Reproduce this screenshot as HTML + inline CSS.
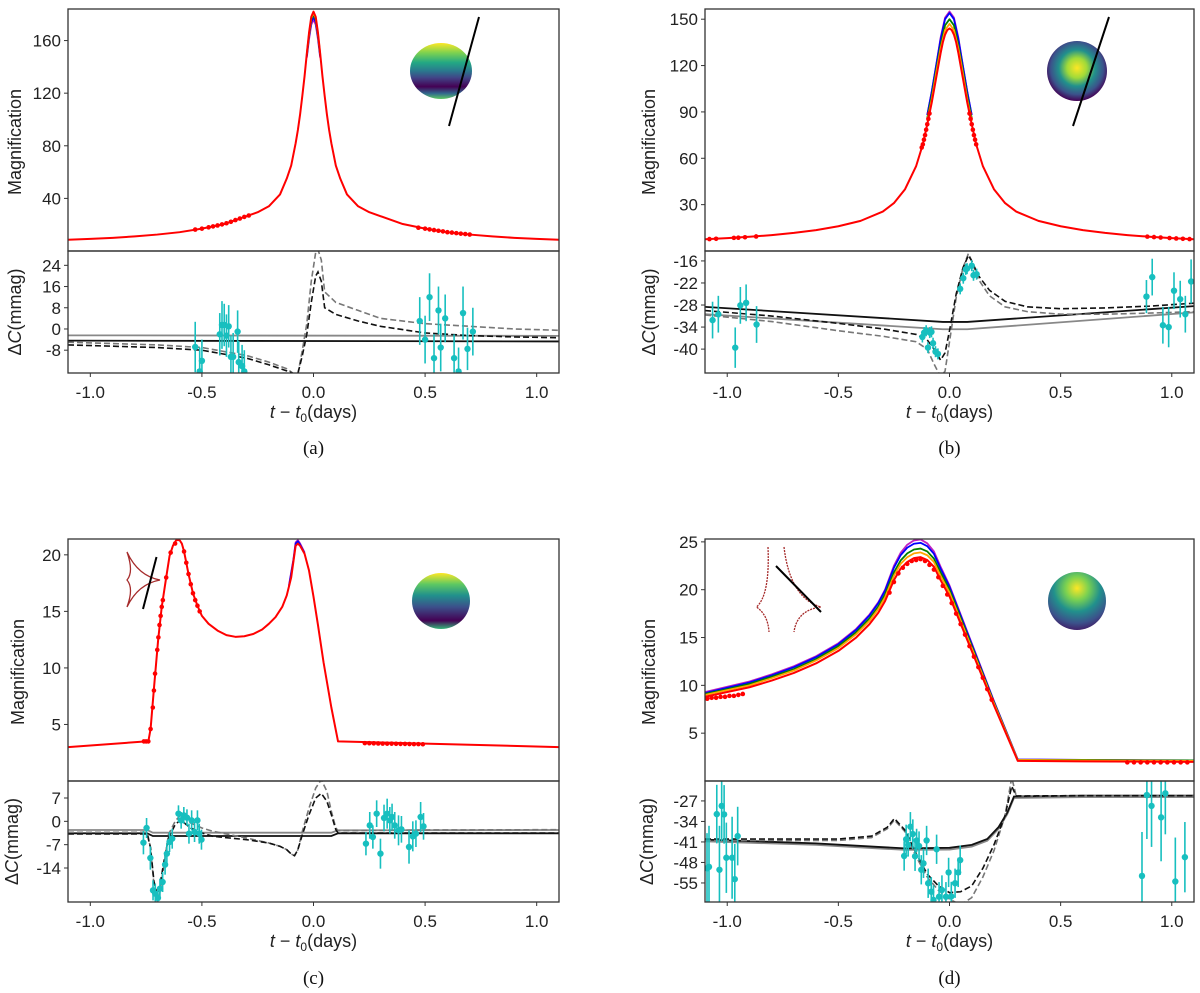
<!DOCTYPE html>
<html><head><meta charset="utf-8">
<style>
html,body{margin:0;padding:0;background:#fff;}
svg{display:block;font-family:"Liberation Sans","DejaVu Sans",sans-serif;}
.tk{font-size:17px;fill:#222;}
.yl{font-size:18px;fill:#222;}
.cap{font-family:"Liberation Serif",serif;font-size:19px;fill:#111;}
</style></head>
<body>
<svg id="fig" width="1200" height="993" viewBox="0 0 1200 993" xmlns="http://www.w3.org/2000/svg">
<defs>
<linearGradient id="gA" x1="0" y1="0" x2="0" y2="1">
<stop offset="0" stop-color="#fde725"/><stop offset="0.18" stop-color="#7ad151"/><stop offset="0.35" stop-color="#22a884"/><stop offset="0.5" stop-color="#2a788e"/><stop offset="0.62" stop-color="#414487"/><stop offset="0.78" stop-color="#440154"/><stop offset="0.9" stop-color="#31688e"/><stop offset="1" stop-color="#5ec962"/></linearGradient>
<radialGradient id="gB" cx="0.5" cy="0.45" r="0.55">
<stop offset="0" stop-color="#fde725"/><stop offset="0.3" stop-color="#a0da39"/><stop offset="0.55" stop-color="#21918c"/><stop offset="0.8" stop-color="#3b528b"/><stop offset="1" stop-color="#440154"/></radialGradient>
<linearGradient id="gC" x1="0" y1="0" x2="0" y2="1">
<stop offset="0" stop-color="#fde725"/><stop offset="0.2" stop-color="#5ec962"/><stop offset="0.4" stop-color="#21918c"/><stop offset="0.6" stop-color="#3b528b"/><stop offset="0.85" stop-color="#440154"/><stop offset="1" stop-color="#35b779"/></linearGradient>
<radialGradient id="gD" cx="0.5" cy="0.28" r="0.8">
<stop offset="0" stop-color="#fde725"/><stop offset="0.25" stop-color="#7ad151"/><stop offset="0.5" stop-color="#21918c"/><stop offset="0.75" stop-color="#3b528b"/><stop offset="1" stop-color="#440154"/></radialGradient>
</defs>
</svg>
<script>
// ---------- Panel (a) data ----------
const tA=[-1.1,-1.0,-0.9,-0.8,-0.7,-0.6,-0.5,-0.4,-0.3,-0.25,-0.2,-0.15,-0.12,-0.1,-0.08,-0.07,-0.06,-0.05,-0.04,-0.03,-0.02,-0.01,0,0.01,0.02,0.03,0.04,0.05,0.06,0.07,0.08,0.1,0.12,0.15,0.2,0.25,0.3,0.4,0.5,0.6,0.7,0.8,0.9,1.0,1.1];
const redA=[8.6,9.2,10,11.1,12.5,14.3,17,20.5,26.5,29.5,34,43,55,65,82,92,104,118,133,150,166,178,182,178,166,150,133,118,104,92,82,65,55,43,34,29.5,26.5,20.5,17,14.3,12.5,11.1,10,9.2,8.6];
const tAp=[-0.03,-0.02,-0.01,0,0.01,0.02,0.03];
const purpleA=[147,161,172,176,172,161,147];
const blueA=[148,163,174,178,174,163,148];
const greenA=[149,164,176,180,176,164,149];
const orangeA=[150,165,177,181,177,165,150];
const tDataA=[-0.53,-0.5,-0.47,-0.45,-0.43,-0.41,-0.39,-0.37,-0.35,-0.33,-0.31,-0.29,0.47,0.5,0.52,0.54,0.56,0.58,0.6,0.62,0.64,0.66,0.68,0.7];
const vDataA=[16.3,17,18,18.7,19.4,20.2,21.1,22.2,23.5,24.7,25.9,27,17.7,17,16.4,15.9,15.4,14.9,14.3,14,13.6,13.2,12.9,12.5];
const tResA=[-1.1,-0.7,-0.5,-0.3,-0.2,-0.12,-0.09,-0.07,-0.05,-0.03,-0.01,0.01,0.02,0.035,0.05,0.1,0.2,0.3,0.5,0.7,0.9,1.1];
const blackDashA=[-6,-7,-8,-11,-13.5,-15.8,-16.8,-16.8,-10,-2,10,20,21.5,18,8,5.5,3,1,-1.5,-2.5,-3,-3.3];
const greyDashA=[-5,-6,-7,-10,-12.5,-15,-16.8,-17,-8,2,18,29,30,26,14,10,7,4,2,1,0,-0.5];
const tSolidA=[-1.1,1.1];
const blackSolidA=[-4.4,-4.7];
const greySolidA=[-2.4,-2.6];
const tCyanA=[-0.53,-0.51,-0.5,-0.42,-0.41,-0.4,-0.39,-0.38,-0.37,-0.36,-0.34,-0.335,-0.32,-0.31,0.476,0.5,0.52,0.54,0.56,0.57,0.59,0.63,0.65,0.67,0.69,0.714];
const vCyanA=[-6.8,-16,-12,-2,1.5,1.5,-2.5,1,-10.5,-10.5,-1,-12.5,-14,-16,3,-4,12,-11,7,-7,4,-11,-16,6,-7.5,-1];
const eCyanA=[9.5,9,8,8,9,8,8,8,8,9,8,8,8,8,9,9,9,9,9,9,9,9,9,10,8,9];

// ---------- Panel (b) data ----------
const tB=[-1.1,-1.0,-0.9,-0.8,-0.7,-0.6,-0.5,-0.4,-0.3,-0.25,-0.2,-0.15,-0.12,-0.1,-0.09,-0.08,-0.07,-0.06,-0.05,-0.04,-0.03,-0.02,-0.01,0,0.01,0.02,0.03,0.04,0.05,0.06,0.07,0.08,0.09,0.1,0.12,0.15,0.2,0.25,0.3,0.4,0.5,0.6,0.7,0.8,0.9,1.0,1.1];
const redB=[7.6,8.3,9.2,10.3,11.7,13.5,16,19.5,25.5,31,40,55,69,82,89,96,104,112,120,128,135,140,143,144,143,140,135,128,120,112,104,96,89,82,69,55,40,31,25.5,19.5,16,13.5,11.7,10.3,9.2,8.3,7.6];
const tBp=[-0.1,-0.08,-0.06,-0.04,-0.02,0,0.02,0.04,0.06,0.08,0.1];
const orangeB=[84,98,115,131,143,147,143,131,115,98,84];
const greenB=[86,100,117,133,146,150,146,133,117,100,86];
const blueB=[88,103,120,137,150,154,150,137,120,103,88];
const purpleB=[88,103,120,138,151,155,151,138,120,103,88];
const tDataB=[-1.08,-1.05,-0.97,-0.95,-0.92,-0.87,-0.125,-0.12,-0.115,-0.11,-0.105,-0.1,-0.095,-0.09,0.09,0.095,0.1,0.105,0.11,0.115,0.12,0.89,0.92,0.95,0.99,1.02,1.05,1.08];
const vDataB=[7.7,7.9,8.5,8.6,8.9,9.4,67,69,72,75,78.5,82,85.5,89,89,85.5,82,78.5,75,72,69,9.3,9,8.7,8.4,8.1,7.9,7.7];
const tResB=[-1.1,-0.8,-0.5,-0.3,-0.15,-0.1,-0.07,-0.04,-0.02,0,0.03,0.06,0.085,0.1,0.13,0.18,0.25,0.35,0.5,0.7,0.9,1.1];
const blackDashB=[-29.5,-31,-33,-34.5,-36,-37.5,-40,-43,-41,-35,-25,-18,-14.5,-16,-20,-24,-27,-28.5,-29,-28.8,-28.3,-27.5];
const greyDashB=[-30.7,-32.5,-35,-36.5,-38,-40,-44,-47.5,-46,-38,-26,-18,-14,-16,-21,-25.5,-28.5,-29.8,-30.5,-30.5,-30.2,-29.8];
const tSolidB=[-1.1,-0.03,0.08,1.1];
const blackSolidB=[-28.5,-32.6,-32.6,-28.3];
const greySolidB=[-30.5,-34.6,-34.6,-30];
const tCyanB=[-1.066,-1.04,-0.964,-0.941,-0.915,-0.868,-0.122,-0.114,-0.105,-0.097,-0.089,-0.081,-0.074,-0.063,-0.052,0.048,0.062,0.073,0.079,0.1,0.108,0.122,0.886,0.912,0.96,0.986,1.01,1.038,1.061,1.087];
const vCyanB=[-32.1,-30.5,-39.6,-28.1,-27.4,-33.3,-36.7,-35.5,-35,-39.6,-35.5,-35.3,-38.4,-40.7,-41.3,-23.6,-20.7,-18.3,-18.1,-17.3,-19.9,-19.6,-25.7,-20.4,-33.5,-34,-24.1,-26.4,-30.5,-21.6];
const eCyanB=[5,5,5.5,5,5,5,1.5,1.5,1.5,1.5,1.5,1.5,1.5,1.5,1.5,1.5,1.5,1.5,1.5,1.5,1.5,1.5,4.5,5,5,5.5,5,5,5,6];

// ---------- Panel (c) data ----------
const tC=[-1.1,-0.75,-0.74,-0.73,-0.714,-0.696,-0.68,-0.66,-0.645,-0.63,-0.615,-0.6,-0.59,-0.58,-0.57,-0.56,-0.54,-0.52,-0.5,-0.47,-0.43,-0.39,-0.35,-0.31,-0.27,-0.23,-0.2,-0.17,-0.14,-0.12,-0.1,-0.09,-0.08,-0.07,-0.06,-0.04,-0.02,0,0.02,0.045,0.08,0.11,0.5,1.1];
const redC=[3.0,3.5,3.5,4.6,8.4,12.5,15.4,18,19.9,20.8,21.3,21.3,21.0,20.3,19.3,18.3,16.6,15.5,14.6,13.9,13.3,12.9,12.75,12.8,13.0,13.4,13.9,14.5,15.4,16.4,18,19.4,20.8,21.0,20.8,20.1,18.6,16.3,13.8,10.5,6.5,3.5,3.3,3.0];
const tCp=[-0.11,-0.09,-0.08,-0.07,-0.06,-0.04];
const purpleC=[17.3,19.6,21.1,21.3,21.0,20.2];
const blueC=[17.2,19.5,21.0,21.2,20.9,20.15];
const tDataC=[-0.76,-0.75,-0.74,-0.73,-0.72,-0.715,-0.71,-0.7,-0.695,-0.69,-0.685,-0.68,-0.675,-0.66,-0.64,-0.62,-0.58,-0.57,-0.56,-0.55,-0.54,-0.53,-0.52,-0.51,0.23,0.25,0.27,0.29,0.31,0.33,0.35,0.37,0.39,0.41,0.43,0.45,0.47,0.49];
const vDataC=[3.5,3.5,3.5,4.6,6.5,8,9.5,11.6,12.7,13.8,14.6,15.4,16,18,20.2,21.0,20.3,19.3,18.3,17.4,16.6,16,15.5,15.0,3.35,3.34,3.33,3.32,3.31,3.3,3.3,3.29,3.28,3.28,3.27,3.26,3.26,3.25];
const tResC=[-1.1,-0.745,-0.73,-0.715,-0.7,-0.69,-0.67,-0.65,-0.62,-0.595,-0.57,-0.55,-0.5,-0.45,-0.3,-0.2,-0.15,-0.12,-0.1,-0.085,-0.07,-0.05,-0.02,0.01,0.035,0.06,0.08,0.1,0.11,0.5,1.1];
const blackDashC=[-3.8,-3.8,-8,-18,-22,-20,-12,-5,-1,0.5,-1,-2,-3.5,-4.5,-5.5,-6.5,-7.5,-8.5,-9.8,-10.3,-8.5,-4,2,7,8.4,6,2,-2.5,-3.5,-3.5,-3.5];
const greyDashC=[-3.3,-3.3,-8,-19,-24,-22,-13,-4,0,2,0.5,-0.5,-2,-3,-5,-6.5,-7.5,-8.5,-9.8,-10.3,-8.5,-3,4,10,12.5,9,3,-2,-2.8,-2.6,-2.5];
const tSolidC=[-1.1,-0.745,-0.72,0.08,0.11,1.1];
const blackSolidC=[-3.6,-3.6,-4.4,-4.4,-3.6,-3.6];
const greySolidC=[-2.6,-2.6,-3.4,-3.4,-2.7,-2.6];
const tCyanC=[-0.762,-0.748,-0.731,-0.719,-0.709,-0.697,-0.688,-0.676,-0.665,-0.657,-0.645,-0.633,-0.605,-0.593,-0.581,-0.567,-0.558,-0.546,-0.533,-0.52,-0.512,-0.502,0.235,0.252,0.266,0.283,0.3,0.316,0.33,0.342,0.352,0.364,0.381,0.394,0.428,0.445,0.459,0.48,0.493];
const vCyanC=[-6.4,-2,-11,-20.7,-21.7,-23,-20.2,-18.2,-13,-9.7,-6.2,-5.2,2.3,0.3,1.8,1.1,-3.7,0.3,-3.2,0.3,-3.7,-5.5,-6.7,-1.2,-4.7,2.3,-9.7,1,2.3,0.3,1.3,-1.2,-2.7,-2.4,-7.7,-4.5,-3.7,1.3,-1.5];
const eCyanC=[3.5,3,3.5,3,3,3,3,3,3,3,3,3,2.5,2.5,2.5,2.5,3,3,3,3,3,3,3.5,4,3.5,4,4.5,4,4.5,4,4,4,4.5,4,5,4.5,4,4.5,4];

// ---------- Panel (d) data ----------
const tD=[-1.1,-1.0,-0.9,-0.8,-0.7,-0.6,-0.5,-0.42,-0.36,-0.32,-0.29,-0.27,-0.25,-0.22,-0.19,-0.16,-0.13,-0.1,-0.07,-0.04,0,0.1,0.2,0.307,0.6,1.1];
const redD=[8.8,9.3,9.8,10.5,11.3,12.3,13.6,15.0,16.4,17.6,18.8,19.9,21.0,22.2,22.9,23.3,23.4,23.1,22.4,21.0,19.3,13.6,7.9,2.1,2.05,2.0];
const orangeD=[9.0,9.5,10.0,10.75,11.55,12.6,13.9,15.35,16.75,18.0,19.2,20.35,21.45,22.7,23.4,23.8,23.9,23.6,22.9,21.45,19.7,13.9,8.1,2.2,2.15,2.1];
const greenD=[9.1,9.6,10.15,10.9,11.7,12.75,14.1,15.55,17.0,18.25,19.5,20.65,21.8,23.05,23.8,24.2,24.3,24.0,23.25,21.8,20.0,14.1,8.2,2.2,2.2,2.15];
const blueD=[9.2,9.75,10.3,11.05,11.9,12.95,14.3,15.8,17.3,18.6,19.9,21.1,22.3,23.6,24.4,24.8,24.9,24.55,23.75,22.2,20.3,14.3,8.3,2.25,2.2,2.15];
const purpleD=[9.3,9.85,10.4,11.15,12.0,13.05,14.4,15.9,17.4,18.7,20.0,21.25,22.5,23.85,24.7,25.15,25.25,24.85,24.0,22.4,20.45,14.4,8.35,2.25,2.2,2.15];
const tDataD=[-1.09,-1.07,-1.05,-1.03,-1.01,-0.99,-0.97,-0.95,-0.93,-0.27,-0.25,-0.23,-0.21,-0.19,-0.17,-0.15,-0.13,-0.11,-0.09,-0.07,-0.05,-0.03,-0.01,0.01,0.03,0.05,0.07,0.09,0.11,0.13,0.15,0.17,0.19,0.8,0.83,0.86,0.89,0.92,0.95,0.98,1.01,1.04,1.07];
const vDataD=[8.6,8.7,8.7,8.8,8.8,8.9,8.9,9.0,9.1,19.7,20.8,21.7,22.3,22.7,23.0,23.1,23.2,23.0,22.6,22.1,21.3,20.4,19.5,18.6,17.5,16.4,15.3,14.1,13.0,11.9,10.8,9.6,8.5,1.95,1.95,1.95,1.95,1.95,1.95,1.95,1.95,1.95,1.95];
const tResD=[-1.1,-0.5,-0.35,-0.28,-0.248,-0.2,-0.15,-0.1,-0.05,0,0.05,0.1,0.15,0.2,0.25,0.28,0.3,0.6,1.1];
const blackDashD=[-40,-40,-39,-36,-33,-37,-45,-52,-56,-58.3,-58,-56,-50,-42,-32,-22,-25.3,-25.2,-25.2];
const greyDashD=[-40.5,-40.5,-39.5,-36.5,-33.5,-37.5,-46,-53,-57.5,-60.5,-62.5,-60,-53,-44,-32,-19,-25.3,-25.3,-25.3];
const tSolidD=[-1.1,-0.6,-0.3,-0.2,0,0.1,0.17,0.22,0.26,0.29,0.6,1.1];
const blackSolidD=[-40.2,-41.5,-42.8,-43.2,-43,-42,-40,-36,-31,-25.5,-25.2,-25.2];
const greySolidD=[-40.8,-42,-43.3,-43.7,-43.6,-42.6,-40.6,-36.6,-31.5,-26,-25.7,-25.7];
const tCyanD=[-1.091,-1.082,-1.047,-1.035,-1.025,-1.014,-1.004,-0.978,-0.966,-0.953,-0.204,-0.195,-0.186,-0.176,-0.165,-0.155,-0.148,-0.137,-0.127,-0.117,-0.103,-0.096,-0.082,-0.072,-0.058,-0.047,-0.034,-0.016,-0.004,0.008,0.025,0.039,0.048,0.866,0.888,0.909,0.952,0.971,1.016,1.059];
const vCyanD=[-50,-49.5,-31.5,-50.5,-28.7,-31.6,-46.4,-46.4,-53.7,-39,-45.8,-40.1,-42,-35.8,-38.3,-45.9,-40.5,-42.4,-50.5,-48.3,-40.5,-55.1,-58,-60.8,-43.5,-59.7,-57.4,-59.7,-51.4,-59.6,-55.1,-51.4,-47.2,-52.6,-25,-28.7,-32.6,-24.4,-54.5,-46.2];
const eCyanD=[12,14,10,15,12,10,12,14,12,10,5,5,4,5,5,5,4,5,5,5,5,5,5,5,5,5,5,5,5,5,5,5,5,15,15,14,15,14,15,12];

// ---------- tick labels ----------
const xTicks=[-1.0,-0.5,0.0,0.5,1.0];
const xTickLabels=["-1.0","-0.5","0.0","0.5","1.0"];
const yTicksTopA=[40,80,120,160], yTicksBotA=[-8,0,8,16,24];
const yTicksTopB=[30,60,90,120,150], yTicksBotB=[-40,-34,-28,-22,-16];
const yTicksTopC=[5,10,15,20], yTicksBotC=[-14,-7,0,7];
const yTicksTopD=[5,10,15,20,25], yTicksBotD=[-55,-48,-41,-34,-27];

const NS="http://www.w3.org/2000/svg";
const svg=document.getElementById('fig');
function mk(tag,attrs,parent){const e=document.createElementNS(NS,tag);for(const k in attrs)e.setAttribute(k,attrs[k]);(parent||svg).appendChild(e);return e;}
function pathD(xs,ys,sx,sy){let d="";for(let i=0;i<xs.length;i++)d+=(i?"L":"M")+sx(xs[i]).toFixed(2)+","+sy(ys[i]).toFixed(2);return d;}

function panel(p){
  const g=mk('g',{});
  
  
  const sx=t=>p.x0+(t+1.1)/2.2*(p.x1-p.x0);
  const syT=v=>p.yMid-(v-p.topMin)/(p.topMax-p.topMin)*(p.yMid-p.yTop);
  const syB=v=>p.yBot-(v-p.botMin)/(p.botMax-p.botMin)*(p.yBot-p.yMid);
  const cpT=mk('clipPath',{id:'cpT'+p.id},g);mk('rect',{x:p.x0,y:p.yTop,width:p.x1-p.x0,height:p.yMid-p.yTop},cpT);
  const cpB=mk('clipPath',{id:'cpB'+p.id},g);mk('rect',{x:p.x0,y:p.yMid,width:p.x1-p.x0,height:p.yBot-p.yMid},cpB);
  const gt=mk('g',{'clip-path':'url(#cpT'+p.id+')'},g);
  
  
  p.colored.forEach(c=>{
    const e=mk('path',{d:pathD(c.t,c.v,sx,syT),fill:'none',stroke:c.col,'stroke-width':1.8,'stroke-linejoin':'round'},gt);
    
    
  });
  const rl=mk('path',{d:pathD(p.tModel,p.red,sx,syT),fill:'none',stroke:'#ff0000','stroke-width':2,'stroke-linejoin':'round'},gt);
  
  
  p.tData.forEach((t,i)=>{
    const c=mk('circle',{cx:sx(t),cy:syT(p.vData[i]),r:2.3,fill:'#ff0000'},gt);
    
    
  });
  const gb=mk('g',{'clip-path':'url(#cpB'+p.id+')'},g);
  
  
  const s1=mk('path',{d:pathD(p.tSolid,p.greySolid,sx,syB),fill:'none',stroke:'#888','stroke-width':1.8},gb);
  
  
  const s2=mk('path',{d:pathD(p.tSolid,p.blackSolid,sx,syB),fill:'none',stroke:'#111','stroke-width':1.8},gb);
  
  
  const d1=mk('path',{d:pathD(p.tRes,p.greyDash,sx,syB),fill:'none',stroke:'#777','stroke-width':1.6,'stroke-dasharray':'6,3'},gb);
  
  
  const d2=mk('path',{d:pathD(p.tRes,p.blackDash,sx,syB),fill:'none',stroke:'#111','stroke-width':1.6,'stroke-dasharray':'6,3'},gb);
  
  
  p.tCyan.forEach((t,i)=>{
    const v=p.vCyan[i],e=p.eCyan[i];
    const l=mk('line',{x1:sx(t),x2:sx(t),y1:syB(v-e),y2:syB(v+e),stroke:'#17bfbf','stroke-width':1.6},gb);
    
    
    const c=mk('circle',{cx:sx(t),cy:syB(v),r:3.2,fill:'#17bfbf'},gb);
    
    
  });
  const f1=mk('rect',{x:p.x0,y:p.yTop,width:p.x1-p.x0,height:p.yMid-p.yTop,fill:'none',stroke:'#333','stroke-width':1.3},g);
  
  
  const f2=mk('rect',{x:p.x0,y:p.yMid,width:p.x1-p.x0,height:p.yBot-p.yMid,fill:'none',stroke:'#333','stroke-width':1.3},g);
  
  
  p.yTicksTop.forEach(v=>{const y=syT(v);mk('line',{x1:p.x0-4,x2:p.x0,y1:y,y2:y,stroke:'#333'},g);
    const tx=mk('text',{x:p.x0-7,y:y+6,'text-anchor':'end',class:'tk'},g);tx.textContent=String(v);
    
    });
  p.yTicksBot.forEach(v=>{const y=syB(v);mk('line',{x1:p.x0-4,x2:p.x0,y1:y,y2:y,stroke:'#333'},g);
    const tx=mk('text',{x:p.x0-7,y:y+6,'text-anchor':'end',class:'tk'},g);tx.textContent=String(v);
    
    });
  xTicks.forEach((t,i)=>{const x=sx(t);mk('line',{x1:x,x2:x,y1:p.yBot,y2:p.yBot+4,stroke:'#333'},g);
    const tx=mk('text',{x:x,y:p.yBot+25,'text-anchor':'middle',class:'tk'},g);tx.textContent=xTickLabels[i];
    
    });
  const cx=(p.x0+p.x1)/2;
  const xl=mk('text',{x:cx,y:p.yBot+45,'text-anchor':'middle',class:'yl'},g);
  xl.innerHTML='<tspan font-style="italic">t</tspan> − <tspan font-style="italic">t</tspan><tspan font-size="12" dy="4">0</tspan><tspan dy="-4">(days)</tspan>';
  
  
  const yl=mk('text',{x:0,y:0,'text-anchor':'middle',class:'yl',transform:`translate(${p.x0-p.ylOff},${(p.yTop+p.yMid)/2+12}) rotate(-90)`},g);
  yl.textContent='Magnification';
  
  
  const yl2=mk('text',{x:0,y:0,'text-anchor':'middle',class:'yl',transform:`translate(${p.x0-p.ylOff2},${(p.yMid+p.yBot)/2}) rotate(-90)`},g);
  yl2.innerHTML='Δ<tspan font-style="italic">C</tspan>(mmag)';
  
  
  const cap=mk('text',{x:cx,y:p.capY,'text-anchor':'middle',class:'cap'},g);
  cap.textContent='('+p.id+')';
  
  
  return g;
}

const LX=[68,559], RX=[705,1194];
panel({id:'a',x0:LX[0],x1:LX[1],yTop:9,yMid:251,yBot:373,topMin:0,topMax:184,botMin:-16.6,botMax:29.4,
  tModel:tA,red:redA,colored:[{t:tAp,v:purpleA,col:'#c020c0',name:'model-purple'},{t:tAp,v:blueA,col:'#0000ff',name:'model-blue'},{t:tAp,v:greenA,col:'#008000',name:'model-green'},{t:tAp,v:orangeA,col:'#ffa500',name:'model-orange'}],
  tData:tDataA,vData:vDataA,tRes:tResA,blackDash:blackDashA,greyDash:greyDashA,tSolid:tSolidA,blackSolid:blackSolidA,greySolid:greySolidA,
  tCyan:tCyanA,vCyan:vCyanA,eCyan:eCyanA,yTicksTop:yTicksTopA,yTicksBot:yTicksBotA,ylOff:47,ylOff2:47,capY:454});
panel({id:'b',x0:RX[0],x1:RX[1],yTop:9,yMid:251,yBot:373,topMin:0,topMax:156.6,botMin:-46.5,botMax:-13.3,
  tModel:tB,red:redB,colored:[{t:tBp,v:purpleB,col:'#c020c0',name:'model-purple'},{t:tBp,v:blueB,col:'#0000ff',name:'model-blue'},{t:tBp,v:greenB,col:'#008000',name:'model-green'},{t:tBp,v:orangeB,col:'#ffa500',name:'model-orange'}],
  tData:tDataB,vData:vDataB,tRes:tResB,blackDash:blackDashB,greyDash:greyDashB,tSolid:tSolidB,blackSolid:blackSolidB,greySolid:greySolidB,
  tCyan:tCyanB,vCyan:vCyanB,eCyan:eCyanB,yTicksTop:yTicksTopB,yTicksBot:yTicksBotB,ylOff:50,ylOff2:50,capY:454});
panel({id:'c',x0:LX[0],x1:LX[1],yTop:539,yMid:781,yBot:902,topMin:0,topMax:21.4,botMin:-24.2,botMax:12.1,
  tModel:tC,red:redC,colored:[{t:tCp,v:purpleC,col:'#c020c0',name:'model-purple'},{t:tCp,v:blueC,col:'#0000ff',name:'model-blue'}],
  tData:tDataC,vData:vDataC,tRes:tResC,blackDash:blackDashC,greyDash:greyDashC,tSolid:tSolidC,blackSolid:blackSolidC,greySolid:greySolidC,
  tCyan:tCyanC,vCyan:vCyanC,eCyan:eCyanC,yTicksTop:yTicksTopC,yTicksBot:yTicksBotC,ylOff:44,ylOff2:50,capY:984});
panel({id:'d',x0:RX[0],x1:RX[1],yTop:539,yMid:781,yBot:902,topMin:0,topMax:25.3,botMin:-61.5,botMax:-20.2,
  tModel:tD,red:redD,colored:[{t:tD,v:purpleD,col:'#c020c0',name:'model-purple'},{t:tD,v:blueD,col:'#0000ff',name:'model-blue'},{t:tD,v:greenD,col:'#008000',name:'model-green'},{t:tD,v:orangeD,col:'#ffa500',name:'model-orange'}],
  tData:tDataD,vData:vDataD,tRes:tResD,blackDash:blackDashD,greyDash:greyDashD,tSolid:tSolidD,blackSolid:blackSolidD,greySolid:greySolidD,
  tCyan:tCyanD,vCyan:vCyanD,eCyan:eCyanD,yTicksTop:yTicksTopD,yTicksBot:yTicksBotD,ylOff:50,ylOff2:52,capY:984});

// ---------- insets ----------
function inset(name,el){}
inset('source-star-a',mk('ellipse',{cx:441,cy:71,rx:31,ry:28,fill:'url(#gA)'}));
inset('source-trajectory-a',mk('line',{x1:479,y1:17,x2:449,y2:126,stroke:'#000','stroke-width':2}));
inset('source-star-b',mk('circle',{cx:1077,cy:71,r:30,fill:'url(#gB)'}));
inset('source-trajectory-b',mk('line',{x1:1109,y1:17,x2:1073,y2:126,stroke:'#000','stroke-width':2}));
inset('source-star-c',mk('ellipse',{cx:441,cy:601,rx:29,ry:28,fill:'url(#gC)'}));
inset('caustic-c',mk('path',{d:'M127,552 Q138,576 160,580 Q138,584 127,607 Q134,588 127,580 Q134,572 127,552 Z',fill:'none',stroke:'#a52a2a','stroke-width':1.3}));
inset('source-trajectory-c',mk('line',{x1:156.5,y1:557,x2:143,y2:609,stroke:'#000','stroke-width':2}));
inset('source-star-d',mk('circle',{cx:1077,cy:601,r:29,fill:'url(#gD)'}));
inset('caustic-d',mk('path',{d:'M768,547 Q770,595 756.5,607 Q768,615 769,632 M784,547 Q790,598 821,607 Q797,610 794,632',fill:'none',stroke:'#a52a2a','stroke-width':1.3,'stroke-dasharray':'2,1'}));
inset('source-trajectory-d',mk('line',{x1:776,y1:566,x2:821,y2:612,stroke:'#000','stroke-width':2}));
</script>
</body></html>
